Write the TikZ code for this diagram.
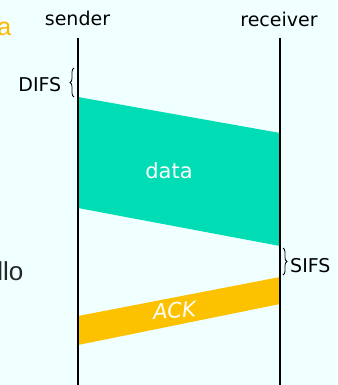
\documentclass[tikz,border=0pt]{standalone}
\usepackage{fontspec}
\setmainfont{DejaVu Sans}
\newfontfamily\arialfont{Liberation Sans}
\usetikzlibrary{decorations.pathreplacing}
\definecolor{bgc}{HTML}{F0FFFF}
\definecolor{datac}{HTML}{00DDB4}
\definecolor{ackc}{HTML}{FCC200}
\definecolor{orangec}{HTML}{FFB800}
\tikzset{
  lbl/.style={font=\fontsize{19}{22}\selectfont, text=black, inner sep=0pt},
  small/.style={font=\fontsize{19}{22}\selectfont, text=black, inner sep=0pt},
  inlbl/.style={font=\fontsize{21}{24}\selectfont, text=white, inner sep=0pt},
  tl/.style={line width=2pt, black},
  brc/.style={decorate, decoration={brace, amplitude=4pt}, line width=0.8pt},
}
\begin{document}
\begin{tikzpicture}[x=1pt,y=-1pt]
\fill[bgc] (0,0) rectangle (337,385);
\useasboundingbox (0,0) rectangle (337,385);
% partial texts at left edge
\node[font=\arialfont\fontsize{25}{28}\selectfont, text=orangec, anchor=base east, inner sep=0pt] (pa) at (11.5,36) {a};
\node[font=\arialfont\fontsize{26}{29}\selectfont, text=black!85, anchor=base east, inner sep=0pt] (pl) at (23.5,280) {llo};
% headers
\node[lbl, anchor=base] (snd) at (77.5,26) {sender};
\node[lbl, anchor=base] (rcv) at (279,26.5) {receiver};
% timelines
\coordinate (s0) at (78,38);
\coordinate (s1) at (78,386);
\coordinate (r0) at (280,38);
\coordinate (r1) at (280,386);
% data
\fill[datac] (78,97) -- (280,133) -- (280,246) -- (78,208) -- cycle;
\node[inlbl, anchor=base] (dlbl) at (169,178) {data};
% ack
\fill[ackc] (78,316) -- (280,277) -- (280,304) -- (78,345) -- cycle;
\node[inlbl, anchor=base, rotate=4, font=\fontsize{21}{24}\selectfont\itshape] (albl) at (175,318) {ACK};
\draw[tl] (s0) -- (s1);
\draw[tl] (r0) -- (r1);
% braces
\coordinate (d0) at (74,97);
\coordinate (d1) at (74,68);
\draw[brc] (d0) -- (d1);
\node[small, anchor=base east] (difs) at (61.5,92) {DIFS};
\coordinate (f0) at (283,248);
\coordinate (f1) at (283,275);
\draw[brc] (f0) -- (f1);
\node[small, anchor=base west] (sifs) at (290,272) {SIFS};
\end{tikzpicture}
\end{document}
